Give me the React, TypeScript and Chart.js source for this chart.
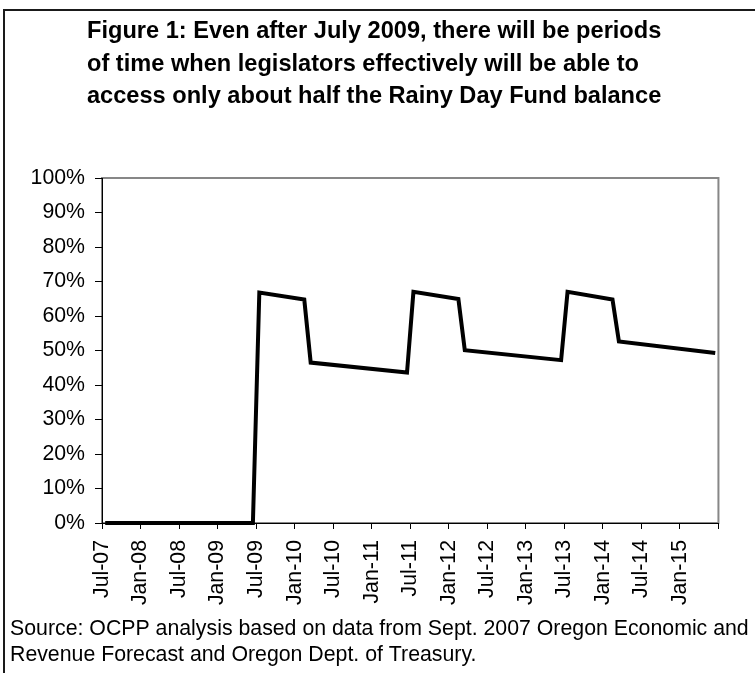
import React, { useEffect, useRef } from 'react';
import { Chart, registerables } from 'chart.js';

Chart.register(...registerables);

const titleLines: string[] = [
  'Figure 1: Even after July 2009, there will be periods',
  'of time when legislators effectively will be able to',
  'access only about half the Rainy Day Fund balance',
];

const sourceLines: string[] = [
  'Source: OCPP analysis based on data from Sept. 2007 Oregon Economic and',
  'Revenue Forecast and Oregon Dept. of Treasury.',
];

// Axis tick labels (every 6 months from Jul-07; the last tick, Jul-15, has no label)
const xTickLabels: string[] = [
  'Jul-07', 'Jan-08', 'Jul-08', 'Jan-09', 'Jul-09', 'Jan-10', 'Jul-10', 'Jan-11',
  'Jul-11', 'Jan-12', 'Jul-12', 'Jan-13', 'Jul-13', 'Jan-14', 'Jul-14', 'Jan-15', '',
];

// Monthly series vertices (share of Rainy Day Fund balance accessible, %)
const pointDates: string[] = [
  'Jul-07', 'Jun-09', 'Jul-09', 'Feb-10', 'Mar-10', 'Jun-11', 'Jul-11',
  'Feb-12', 'Mar-12', 'Jun-13', 'Jul-13', 'Feb-14', 'Mar-14', 'Jun-15',
];
const pointValues: number[] = [
  0, 0, 66.8, 64.8, 46.5, 43.6, 67.0,
  64.9, 50.1, 47.2, 67.0, 64.8, 52.6, 49.3,
];

const MONTHS = ['Jan', 'Feb', 'Mar', 'Apr', 'May', 'Jun', 'Jul', 'Aug', 'Sep', 'Oct', 'Nov', 'Dec'];
function monthIndex(label: string): number {
  const [m, y] = label.split('-');
  return (2000 + Number(y) - 2007) * 12 + MONTHS.indexOf(m) - 6;
}

const FONT = '"Liberation Sans", Arial, Helvetica, sans-serif';
const TICK_FONT_SIZE = 21.3;

const framePlugin = {
  id: 'frame',
  beforeDraw(chart: any) {
    const { ctx, chartArea } = chart;
    ctx.save();
    ctx.fillStyle = '#ffffff';
    ctx.fillRect(0, 0, chart.width, chart.height);
    // outer box (its right and bottom edges fall outside the picture)
    ctx.strokeStyle = '#1a1a1a';
    ctx.lineWidth = 2;
    ctx.beginPath();
    ctx.moveTo(4, chart.height + 5);
    ctx.lineTo(4, 10);
    ctx.lineTo(chart.width + 5, 10);
    ctx.stroke();
    // plot-area border
    ctx.strokeStyle = '#878787';
    ctx.lineWidth = 2;
    ctx.strokeRect(chartArea.left, chartArea.top, chartArea.right - chartArea.left, chartArea.bottom - chartArea.top);
    ctx.restore();
  },
  afterDraw(chart: any) {
    const { ctx } = chart;
    ctx.save();
    ctx.fillStyle = '#000';
    ctx.textBaseline = 'alphabetic';
    ctx.font = `bold 23.6px ${FONT}`;
    ctx.textAlign = 'left';
    const tb = [38, 70.5, 103];
    titleLines.forEach((t, i) => ctx.fillText(t, 87, tb[i]));
    ctx.font = `${TICK_FONT_SIZE}px ${FONT}`;
    const sb = [635, 661];
    sourceLines.forEach((t, i) => ctx.fillText(t, 10, sb[i]));
    ctx.restore();
  },
};

export default function App() {
  const ref = useRef<HTMLCanvasElement | null>(null);
  useEffect(() => {
    if (!ref.current) return;
    const data = pointDates.map((d, i) => ({ x: monthIndex(d) + 0.5, y: pointValues[i] }));
    const chart = new Chart(ref.current, {
      type: 'line',
      data: {
        datasets: [
          {
            data,
            borderColor: '#000000',
            borderWidth: 4,
            pointRadius: 0,
            tension: 0,
            fill: false,
            clip: false as any,
          },
        ],
      },
      options: {
        animation: false,
        responsive: false,
        devicePixelRatio: 1,
        layout: { padding: { top: 178, left: 0, right: 17, bottom: 60 } },
        plugins: {
          legend: { display: false },
          tooltip: { enabled: false },
          title: { display: false },
        },
        scales: {
          x: {
            type: 'linear',
            min: 0,
            max: 96,
            afterFit: (s: any) => { s.height = 90; },
            ticks: {
              stepSize: 6,
              autoSkip: false,
              minRotation: 90,
              maxRotation: 90,
              padding: 11,
              color: '#000',
              font: { size: TICK_FONT_SIZE, family: FONT },
              callback: (v: any) => xTickLabels[Math.round(Number(v) / 6)] ?? '',
            },
            grid: { drawOnChartArea: false, drawTicks: true, tickLength: 6, color: '#000', lineWidth: 1 },
            border: { display: true, color: '#000', width: 1 },
          },
          y: {
            min: 0,
            max: 100,
            afterFit: (s: any) => { s.width = 102; },
            ticks: {
              stepSize: 10,
              padding: 10,
              color: '#000',
              font: { size: TICK_FONT_SIZE, family: FONT },
              callback: (v: any) => `${v}%`,
            },
            grid: { drawOnChartArea: false, drawTicks: true, tickLength: 7, color: '#000', lineWidth: 1 },
            border: { display: true, color: '#000', width: 1 },
          },
        },
      },
      plugins: [framePlugin],
    });
    return () => chart.destroy();
  }, []);
  return (
    <canvas
      ref={ref}
      width={755}
      height={673}
      style={{ position: 'absolute', left: 0, top: 0, width: 755, height: 673 }}
    />
  );
}
